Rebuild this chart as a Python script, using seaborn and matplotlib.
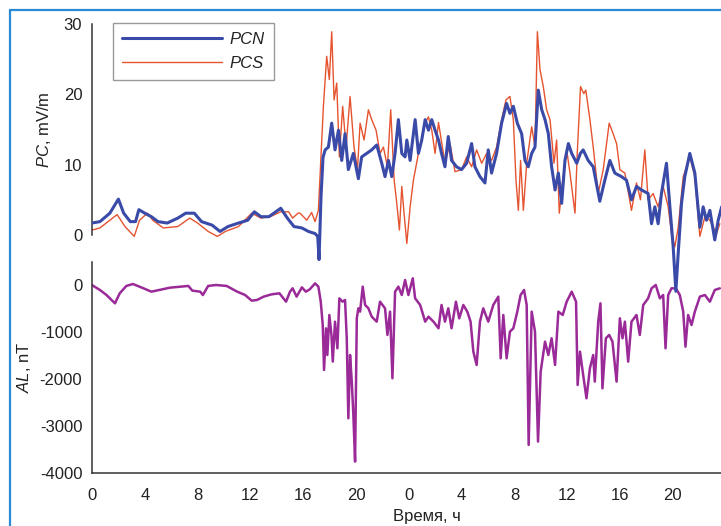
import matplotlib
matplotlib.use("Agg")
import matplotlib.pyplot as plt
import seaborn as sns
from matplotlib.lines import Line2D
from matplotlib.ticker import MultipleLocator, FixedLocator, FixedFormatter

# ---------------- data (hours from start) ----------------
pcn_t = [0.0, 0.6, 1.35, 2.0, 2.4, 2.9, 3.3, 3.55, 4.0, 4.5, 5.0, 5.7, 6.5, 7.1, 7.75, 8.3,
         9.1, 9.7, 10.3, 11.1, 11.8, 12.3, 12.8, 13.4, 14.3, 14.8, 15.3, 15.9, 16.4, 16.9,
         17.1, 17.2, 17.35, 17.5, 17.66, 17.91, 18.16, 18.41, 18.67, 18.92, 19.17, 19.42,
         19.80, 20.18, 20.43, 20.81, 21.19, 21.57, 21.95, 22.20, 22.46, 22.71, 22.96, 23.21,
         23.47, 23.72, 23.85, 24.10, 24.48, 24.73, 24.98, 25.24, 25.49, 25.74, 25.99, 26.25,
         26.48, 26.74, 26.99, 27.24, 27.62, 28.0, 28.38, 28.76, 29.01, 29.39, 29.77, 30.02,
         30.27, 30.65, 31.03, 31.41, 31.66, 31.92, 32.22, 32.55, 32.80, 33.05, 33.31, 33.56,
         33.81, 34.07, 34.32, 34.57, 34.82, 35.08, 35.33, 35.58, 35.83, 36.09, 36.34, 36.72,
         37.0, 37.21, 37.59, 37.97, 38.47, 38.85, 39.23, 39.61, 40.11, 40.49, 40.87, 41.25,
         41.63, 42.13, 42.39, 42.64, 42.89, 43.14, 43.52, 43.78, 44.03, 44.23, 44.41, 44.66,
         44.91, 45.29, 45.67, 46.05, 46.30, 46.55, 46.81, 47.18, 47.44, 47.7]
pcn_v = [1.7, 1.9, 3.1, 5.1, 3.1, 1.9, 1.9, 3.6, 3.1, 2.6, 1.9, 1.7, 2.4, 3.1, 3.1, 1.9,
         1.4, 0.5, 1.2, 1.7, 2.1, 3.3, 2.6, 2.6, 3.8, 2.4, 1.2, 1.0, 0.5, 0.2,
         -0.2, -3.5, 5.5, 11.0, 12.1, 12.5, 15.9, 12.1, 14.9, 10.6, 14.4, 9.3,
         11.6, 8.0, 11.1, 11.6, 12.1, 12.8, 10.2, 8.3, 10.6, 8.3, 11.6, 16.4,
         11.6, 11.1, 13.5, 10.6, 16.4, 11.6, 13.5, 16.4, 14.9, 16.4, 14.9, 13.5,
         11.6, 9.7, 14.0, 10.6, 9.7, 9.3, 10.2, 13.0, 9.7, 8.3, 7.4, 12.1,
         8.8, 11.6, 15.9, 18.7, 17.3, 18.3, 15.9, 14.4, 10.6, 9.7, 11.6, 12.5,
         20.6, 17.8, 16.4, 14.4, 9.7, 6.4, 8.8, 4.5, 10.6, 13.0, 11.6, 10.2,
         11.6, 12.1, 10.6, 9.7, 4.8, 7.8, 10.6, 8.8, 8.3, 7.8, 5.0, 6.9,
         6.4, 5.9, 1.6, 4.0, 1.6, 5.9, 10.2, 4.0, -1.7, -8.0, -2.6, 4.5,
         8.3, 11.6, 8.8, 1.1, 4.0, 2.1, 3.5, -0.7, 2.1, 4.0]

pcs_t = [0.0, 0.6, 1.9, 2.5, 3.2, 3.6, 4.2, 4.6, 5.4, 6.5, 7.4, 8.0, 8.8, 9.5, 10.1, 11.1,
         12.1, 12.8, 13.5, 14.3, 14.9, 15.2, 15.6, 15.76, 16.27, 16.64, 16.90, 17.15, 17.33,
         17.53, 17.78, 17.98, 18.16, 18.34, 18.54, 18.74, 18.99, 19.25, 19.55, 19.85, 20.11,
         20.31, 20.61, 20.94, 21.19, 21.52, 21.82, 22.08, 22.38, 22.63, 22.89, 23.09, 23.29,
         23.47, 23.64, 23.85, 24.10, 24.35, 24.73, 24.98, 25.24, 25.49, 25.74, 25.99, 26.25,
         26.74, 27.12, 27.50, 28.0, 28.38, 28.76, 29.14, 29.52, 29.90, 30.27, 30.65, 31.03,
         31.36, 31.66, 31.92, 32.12, 32.30, 32.47, 32.68, 32.93, 33.31, 33.56, 33.74, 33.94,
         34.19, 34.44, 34.70, 35.0, 35.20, 35.40, 35.66, 35.96, 36.21, 36.59, 36.76, 37.01,
         37.26, 37.41, 37.72, 37.97, 38.35, 38.73, 39.18, 39.48, 39.74, 39.99, 40.37, 40.87,
         41.25, 41.55, 41.88, 42.13, 42.51, 42.89, 43.27, 43.65, 43.90, 44.15, 44.41, 44.79,
         45.29, 45.67, 46.05, 46.43, 46.81, 47.31, 47.56]
pcs_v = [0.7, 1.0, 2.9, 1.2, -0.2, 2.1, 3.1, 2.1, 1.0, 1.2, 2.4, 1.7, 0.5, -0.2, 0.5, 1.2,
         3.1, 2.4, 2.6, 3.3, 3.3, 2.4, 3.1, 3.1, 2.1, 3.2, 1.9, 3.5, 10.6,
         18.3, 25.4, 22.1, 28.9, 19.2, 21.6, 11.1, 18.3, 12.5, 19.7, 12.5, 9.3,
         15.9, 13.5, 17.8, 16.4, 14.9, 11.6, 12.5, 9.7, 17.8, 7.8, 4.5, 0.7,
         6.9, 3.1, -1.2, 4.0, 7.8, 11.6, 13.5, 15.9, 16.8, 14.9, 11.6, 16.0,
         10.2, 13.0, 9.0, 9.3, 11.1, 9.7, 12.1, 10.2, 11.6, 10.6, 12.5, 16.4,
         19.2, 19.7, 16.4, 7.8, 3.5, 10.6, 3.5, 10.2, 15.4, 12.5, 28.9, 23.5,
         21.1, 17.8, 16.4, 10.2, 13.5, 3.1, 7.8, 12.1, 8.8, 3.1, 11.6, 21.1,
         20.1, 20.6, 16.4, 12.5, 5.9, 9.3, 15.9, 14.4, 13.0, 9.3, 8.8, 3.5,
         7.4, 5.0, 12.1, 5.0, 5.9, 4.0, 6.9, 4.0, 0.2, -1.7, 1.1, 8.3,
         11.1, 8.3, -0.2, 2.6, 2.1, 0.2, 1.6]

al_t = [0.0, 0.1, 0.6, 1.1, 1.74, 2.1, 2.6, 3.1, 3.6, 3.9, 4.5, 5.1, 5.9, 6.7, 7.3, 7.6,
        8.2, 8.4, 8.8, 9.4, 10.2, 11.0, 11.6, 12.1, 12.5, 13.0, 13.6, 14.2, 14.7, 15.0,
        15.2, 15.5, 15.9, 16.2, 16.5, 16.9, 17.15, 17.33, 17.48, 17.58, 17.73, 17.83, 17.98,
        18.14, 18.24, 18.41, 18.59, 18.74, 18.99, 19.17, 19.30, 19.42, 19.55, 19.68, 19.80,
        19.93, 20.06, 20.18, 20.31, 20.51, 20.69, 20.94, 21.19, 21.57, 21.82, 22.20, 22.38,
        22.58, 22.76, 22.96, 23.21, 23.47, 23.72, 23.97, 24.30, 24.48, 24.86, 25.24, 25.49,
        25.87, 26.25, 26.48, 26.74, 26.99, 27.24, 27.57, 27.82, 28.13, 28.43, 28.68, 28.89,
        29.14, 29.39, 29.64, 30.02, 30.40, 30.78, 30.96, 31.16, 31.41, 31.66, 31.92, 32.22,
        32.47, 32.73, 32.93, 33.08, 33.31, 33.56, 33.79, 33.99, 34.32, 34.57, 34.82, 35.08,
        35.33, 35.66, 35.96, 36.34, 36.67, 36.79, 36.97, 37.21, 37.46, 37.72, 37.97, 38.09,
        38.35, 38.52, 38.67, 38.93, 39.18, 39.43, 39.74, 39.99, 40.19, 40.37, 40.62, 40.87,
        41.25, 41.50, 41.76, 42.13, 42.39, 42.71, 43.02, 43.27, 43.45, 43.65, 43.90, 44.23,
        44.53, 44.79, 44.96, 45.16, 45.42, 45.67, 46.05, 46.43, 46.81, 47.18, 47.56]
al_v = [0, -20, -106, -213, -390, -177, -20, 21, -35, -70, -142, -106, -57, -35, -20, -120,
        -142, -213, -20, 0, -20, -142, -213, -333, -319, -248, -199, -177, -355, -142,
        -70, -248, -50, -142, -92, 35, -35, -355, -851, -1808, -922, -1489, -638,
        -1063, -1630, -780, -1347, -284, -355, -319, -1134, -2836, -1489, -2056, -2765,
        -3758, -709, -496, -567, -35, -425, -496, -674, -780, -355, -496, -1063,
        -567, -1985, -142, -35, -213, 106, -213, 142, -284, -425, -780, -674,
        -780, -921, -425, -780, -496, -921, -355, -709, -425, -567, -780, -1418,
        -1702, -780, -496, -780, -425, -248, -1560, -638, -1560, -993, -921, -567,
        -213, -106, -425, -3403, -567, -993, -3332, -1843, -1205, -1489, -1134, -1702,
        -567, -638, -355, -142, -355, -2127, -1418, -1914, -2411, -1772, -1489, -2056,
        -780, -390, -2199, -1134, -1063, -1205, -2056, -709, -1134, -780, -1631, -780,
        -638, -1063, -425, -284, -71, 0, -284, -213, -1347, -213, -71, -71,
        -213, -567, -1312, -638, -851, -567, -248, -213, -355, -106, -71]

x_ticks = [0, 4, 8, 12, 16, 20, 24, 28, 32, 36, 40, 44]
x_tick_labels = ["0", "4", "8", "12", "16", "20", "0", "4", "8", "12", "16", "20"]
pc_ticks = [0, 10, 20, 30]
al_ticks = [0, -1000, -2000, -3000, -4000]

# ---------------- style ----------------
sns.set_style("white")
plt.rcParams["font.family"] = ["Liberation Sans", "DejaVu Sans"]
plt.rcParams["axes.unicode_minus"] = False
plt.rcParams["mathtext.fontset"] = "custom"
plt.rcParams["mathtext.it"] = "Liberation Sans:italic"
plt.rcParams["mathtext.rm"] = "Liberation Sans"

C_PCN = "#3a4aa8"
C_PCS = "#e5532f"
C_AL = "#9a2a98"
C_AX = "#333333"
C_TXT = "#222222"
FS = 12

W, H = 721, 526
fig = plt.figure(figsize=(W / 100, H / 100), dpi=100)
L = 92 / W
XMAX = (W - 92) / 13.2

ax_al = fig.add_axes([L, 1 - 473 / H, 1 - L, (473 - 261.5) / H])
ax_pc = fig.add_axes([L, 1 - 301.8 / H, 1 - L, (301.8 - 24) / H])
ax_pc.patch.set_alpha(0)

sns.lineplot(x=al_t, y=al_v, ax=ax_al, color=C_AL, linewidth=1.8, estimator=None, sort=False)
sns.lineplot(x=pcs_t, y=pcs_v, ax=ax_pc, color=C_PCS, linewidth=1.0, estimator=None,
             sort=False, label="PCS", zorder=2)
sns.lineplot(x=pcn_t, y=pcn_v, ax=ax_pc, color=C_PCN, linewidth=2.2, estimator=None,
             sort=False, label="PCN", zorder=3)

# top panel
ax_pc.set_xlim(0, XMAX)
ax_pc.set_ylim(-9.5, 30)
for s in ["top", "right", "bottom"]:
    ax_pc.spines[s].set_visible(False)
ax_pc.spines["left"].set_bounds(0, 30)
ax_pc.spines["left"].set_color(C_AX)
ax_pc.spines["left"].set_linewidth(1.1)
ax_pc.set_xticks([])
ax_pc.yaxis.set_major_locator(FixedLocator(pc_ticks))
ax_pc.yaxis.set_minor_locator(FixedLocator([5, 15, 25]))
ax_pc.tick_params(axis="y", which="major", direction="in", length=8, width=1.1,
                  color=C_AX, labelsize=FS, labelcolor=C_TXT, pad=7)
ax_pc.tick_params(axis="y", which="minor", direction="in", length=5, width=1.1, color=C_AX)
ax_pc.set_xlabel("")
ax_pc.set_ylabel("")

h, lab = ax_pc.get_legend_handles_labels()
order = [lab.index("PCN"), lab.index("PCS")]
leg = ax_pc.legend([h[i] for i in order], [lab[i] for i in order],
                   loc="upper left", bbox_to_anchor=(113 / W, 1 - 23 / H),
                   bbox_transform=fig.transFigure, borderaxespad=0,
                   prop={"style": "italic", "size": FS}, handlelength=6.0,
                   handletextpad=0.45, labelspacing=0.5, borderpad=0.55,
                   fancybox=False, frameon=True, framealpha=1)
leg.get_frame().set_edgecolor("#999999")
leg.get_frame().set_linewidth(1.0)
for t in leg.get_texts():
    t.set_color(C_TXT)

# bottom panel
ax_al.set_xlim(0, XMAX)
ax_al.set_ylim(-4000, 500)
for s in ["top", "right"]:
    ax_al.spines[s].set_visible(False)
for s in ["left", "bottom"]:
    ax_al.spines[s].set_color(C_AX)
    ax_al.spines[s].set_linewidth(1.1)
ax_al.yaxis.set_major_locator(FixedLocator(al_ticks))
ax_al.yaxis.set_minor_locator(FixedLocator([500, -500, -1500, -2500, -3500]))
ax_al.xaxis.set_major_locator(FixedLocator(x_ticks))
ax_al.xaxis.set_major_formatter(FixedFormatter(x_tick_labels))
ax_al.xaxis.set_minor_locator(MultipleLocator(2))
ax_al.tick_params(axis="both", which="major", direction="in", length=8, width=1.1,
                  color=C_AX, labelsize=FS, labelcolor=C_TXT)
ax_al.tick_params(axis="y", which="major", pad=7)
ax_al.tick_params(axis="x", which="major", pad=11)
ax_al.tick_params(axis="both", which="minor", direction="in", length=5, width=1.1, color=C_AX)
ax_al.set_xlabel("")
ax_al.set_ylabel("")

fig.text(44 / W, 1 - 130 / H, r"$\mathit{PC}$, mV/m", rotation=90, ha="center", va="center",
         fontsize=FS, color=C_TXT)
fig.text(24 / W, 1 - 367 / H, r"$\mathit{AL}$, nT", rotation=90, ha="center", va="center",
         fontsize=FS, color=C_TXT)
fig.text(427 / W, 1 - 516 / H, "Время, ч", ha="center", va="center", fontsize=FS, color=C_TXT)

# blue frame
fig.add_artist(Line2D([10 / W, 10 / W], [0, 1 - 10 / H], transform=fig.transFigure,
                      color="#2a8ad6", linewidth=1.6))
fig.add_artist(Line2D([10 / W, 1], [1 - 10 / H, 1 - 10 / H], transform=fig.transFigure,
                      color="#2a8ad6", linewidth=1.6))

fig.savefig("out.png", dpi=100)
